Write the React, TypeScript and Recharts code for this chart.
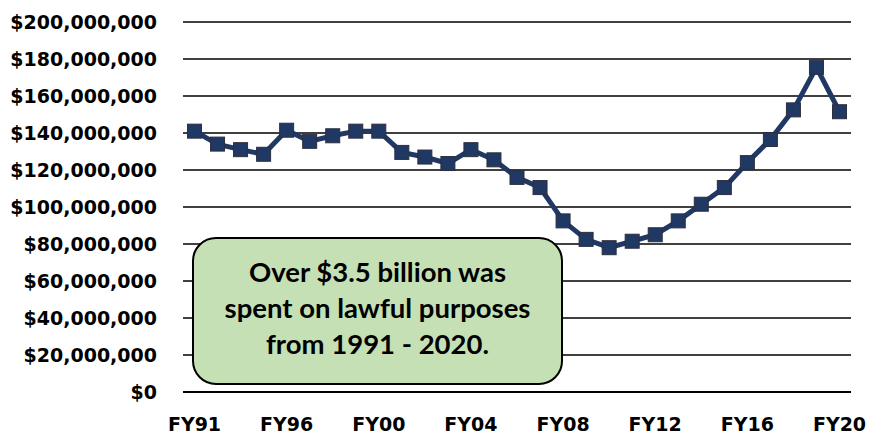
import { CartesianGrid, Line, LineChart, XAxis, YAxis } from "recharts";

// FY95 is not in the source chart's category list
const years = [
  "FY91", "FY92", "FY93", "FY94", "FY96", "FY97", "FY98", "FY99", "FY00", "FY01",
  "FY02", "FY03", "FY04", "FY05", "FY06", "FY07", "FY08", "FY09", "FY10", "FY11",
  "FY12", "FY13", "FY14", "FY15", "FY16", "FY17", "FY18", "FY19", "FY20"
];

const spentMillions = [
  141, 134, 131, 128.5, 141.5, 135.5, 138.5, 141, 141, 129.5,
  127, 123.5, 131, 125.5, 116, 110.5, 92.5, 82.5, 78, 81.5,
  85, 92.5, 101.5, 110.5, 124, 136.5, 152.5, 175.5, 151.5
];

const yTicks = [0, 20, 40, 60, 80, 100, 120, 140, 160, 180, 200].map((m) => m * 1_000_000);

const data = years.map((year, i) => ({ year, spent: spentMillions[i] * 1_000_000 }));

const NAVY = "#1f3864";
const AXIS_FONT = "'DejaVu Sans', sans-serif";

function formatDollars(value: number) {
  return "$" + value.toLocaleString("en-US");
}

function SquareDot(props: { cx?: number; cy?: number; index?: number }) {
  const { cx, cy, index } = props;
  if (cx == null || cy == null) return null;
  return (
    <rect
      key={`dot-${index}`}
      x={cx - 7}
      y={cy - 7}
      width={14}
      height={14}
      fill={NAVY}
      stroke="#2e2e3e"
      strokeWidth={1}
    />
  );
}

export default function App() {
  return (
    <div style={{ position: "relative", width: 882, height: 438, background: "#fff" }}>
      <style>{`body { margin: 0; }`}</style>
      <LineChart
        width={882}
        height={438}
        data={data}
        margin={{ top: 22, right: 31, bottom: 0, left: 0 }}
      >
        <CartesianGrid vertical={false} stroke="#000" strokeWidth={1.6} />
        <XAxis
          dataKey="year"
          interval={3}
          padding={{ left: 11.5, right: 11.5 }}
          tickLine={false}
          axisLine={{ stroke: "#000", strokeWidth: 2 }}
          tickMargin={20}
          height={46}
          tick={{ fill: "#000", fontSize: 19, fontWeight: 700, fontFamily: AXIS_FONT }}
        />
        <YAxis
          domain={[0, 200_000_000]}
          ticks={yTicks}
          width={183}
          axisLine={false}
          tickLine={false}
          tickMargin={20}
          tickFormatter={(v) => formatDollars(Number(v))}
          tick={{ fill: "#000", fontSize: 19, fontWeight: 700, fontFamily: AXIS_FONT }}
        />
        <Line
          type="linear"
          dataKey="spent"
          stroke={NAVY}
          strokeWidth={5}
          dot={(p: any) => <SquareDot {...p} />}
          activeDot={false}
          isAnimationActive={false}
        />
      </LineChart>
      <div
        style={{
          position: "absolute",
          left: 192,
          top: 237,
          width: 371,
          height: 148,
          boxSizing: "border-box",
          paddingBottom: 6,
          background: "#c5e0b4",
          border: "2.5px solid #000",
          borderRadius: 24,
          display: "flex",
          alignItems: "center",
          justifyContent: "center",
          textAlign: "center",
          fontFamily: "Lato, sans-serif",
          fontWeight: 700,
          fontSize: 27.5,
          lineHeight: "36px",
          color: "#000"
        }}
      >
        <div>
          Over $3.5 billion was
          <br />
          spent on lawful purposes
          <br />
          from 1991 - 2020.
        </div>
      </div>
    </div>
  );
}
